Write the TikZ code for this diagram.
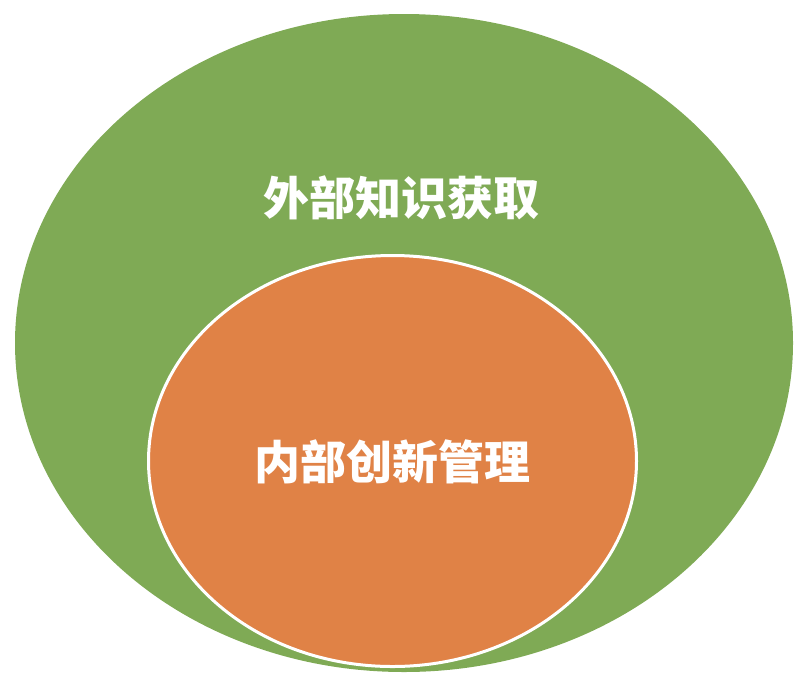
\documentclass[tikz,border=0pt]{standalone}
\usepackage{fontspec}
\usepackage{tikz}
\usetikzlibrary{shapes.geometric}
\newfontfamily\cjk{Noto Sans CJK SC}
\definecolor{outergreen}{RGB}{127,170,85}
\definecolor{innerorange}{RGB}{224,130,70}
\begin{document}
\begin{tikzpicture}[x=1pt,y=-1pt,
  circlebox/.style={ellipse, inner sep=0pt},
  label text/.style={text=white, font=\cjk\bfseries\fontsize{46}{46}\selectfont}]
\useasboundingbox (0,0) rectangle (802,675);

\node[circlebox, fill=outergreen, minimum width=778pt, minimum height=658pt] (ext) at (404,343) {};
\node[circlebox, fill=innerorange, draw=white, line width=3pt,
  minimum width=488pt, minimum height=411pt] (int) at (392.5,461) {};

\node[label text] (extlabel) at (401,198) {外部知识获取};
\node[label text] (intlabel) at (392,462) {内部创新管理};

\end{tikzpicture}
\end{document}
